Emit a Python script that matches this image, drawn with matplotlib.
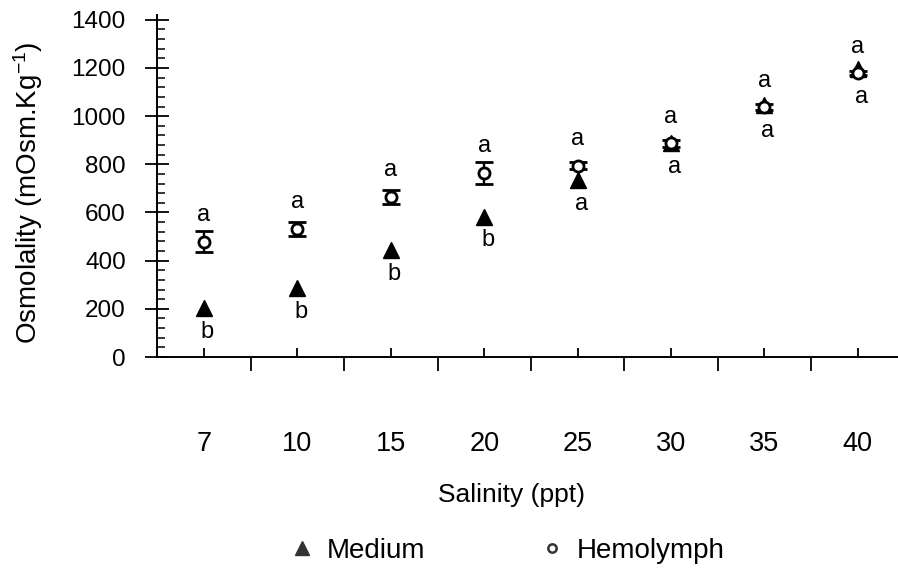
import matplotlib
matplotlib.use('Agg')
import matplotlib.pyplot as plt
import numpy as np
from matplotlib.ticker import FixedLocator, MultipleLocator, NullFormatter
from matplotlib.lines import Line2D

plt.rcParams['font.family'] = ['Liberation Sans', 'DejaVu Sans']
plt.rcParams['mathtext.fontset'] = 'custom'
plt.rcParams['mathtext.rm'] = 'Liberation Sans'
plt.rcParams['mathtext.it'] = 'Liberation Sans:italic'

# data
salinity = ['7', '10', '15', '20', '25', '30', '35', '40']
medium = [202, 285, 444, 583, 735, 888, 1045, 1195]
hemolymph = [479, 532, 665, 765, 795, 888, 1038, 1178]
hemo_err = [43, 30, 29, 45, 14, 14, 12, 8]
letters_top = ['a', 'a', 'a', 'a', 'a', 'a', 'a', 'a']
letters_bottom = ['b', 'b', 'b', 'b', 'a', 'a', 'a', 'a']

x = np.arange(len(salinity))

fig = plt.figure(figsize=(8.98, 5.72), dpi=100)
ax = fig.add_axes([157 / 898, 215 / 572, 741 / 898, 342 / 572])

ax.plot(x, medium, linestyle='none', marker='^', ms=11.5, color='black', zorder=3)
ax.errorbar(x, hemolymph, yerr=hemo_err, fmt='o', ms=8, mfc='white', mec='black',
            mew=2.0, ecolor='black', elinewidth=1.7, capsize=6.5, capthick=2.2, zorder=4)

for i in range(len(x)):
    ax.annotate(letters_top[i], (x[i], hemolymph[i]), xytext=(0, 19),
                textcoords='offset points', ha='center', va='center', fontsize=17)
    low = min(medium[i], hemolymph[i])
    ax.annotate(letters_bottom[i], (x[i], low), xytext=(2.5, -17),
                textcoords='offset points', ha='center', va='center', fontsize=17)

ax.set_xlim(-0.503, 7.43)
ax.set_ylim(0, 1420)

ax.spines['top'].set_visible(False)
ax.spines['right'].set_visible(False)
ax.spines['left'].set_linewidth(1.4)
ax.spines['bottom'].set_linewidth(1.4)

# x axis: short upward ticks at the categories, longer downward ticks between
ax.xaxis.set_major_locator(FixedLocator(x))
ax.set_xticklabels(salinity)
ax.xaxis.set_minor_locator(FixedLocator(x[:-1] + 0.5))
ax.xaxis.set_minor_formatter(NullFormatter())
ax.tick_params(axis='x', which='major', direction='in', length=6.5, width=1.3,
               pad=53, labelsize=19.5)
ax.tick_params(axis='x', which='minor', direction='out', length=10, width=1.3)

# y axis
ax.yaxis.set_major_locator(MultipleLocator(200))
ax.yaxis.set_minor_locator(MultipleLocator(40))
ax.tick_params(axis='y', which='major', direction='inout', length=17, width=1.3,
               pad=14, labelsize=17.5)
ax.tick_params(axis='y', which='minor', direction='in', length=6, width=1.1)

fig.text(28 / 898, 1 - 193 / 572, 'Osmolality (mOsm.Kg$^{-1}$)', rotation=90,
         ha='center', va='center', fontsize=20)
fig.text(512 / 898, 1 - 495 / 572, 'Salinity (ppt)', ha='center', va='center', fontsize=19)

handles = [Line2D([], [], linestyle='none', marker='^', ms=10, color='#333333'),
           Line2D([], [], linestyle='none', marker='o', ms=6, mfc='white', mec='#333333', mew=1.8)]
fig.legend(handles, ['Medium', 'Hemolymph'], ncol=2, frameon=False, fontsize=20,
           loc='center left', bbox_to_anchor=(274 / 898, 1 - 551 / 572),
           borderpad=0, handlelength=1.0, handletextpad=0.4, columnspacing=4.05)

fig.savefig('out.png', dpi=100)
